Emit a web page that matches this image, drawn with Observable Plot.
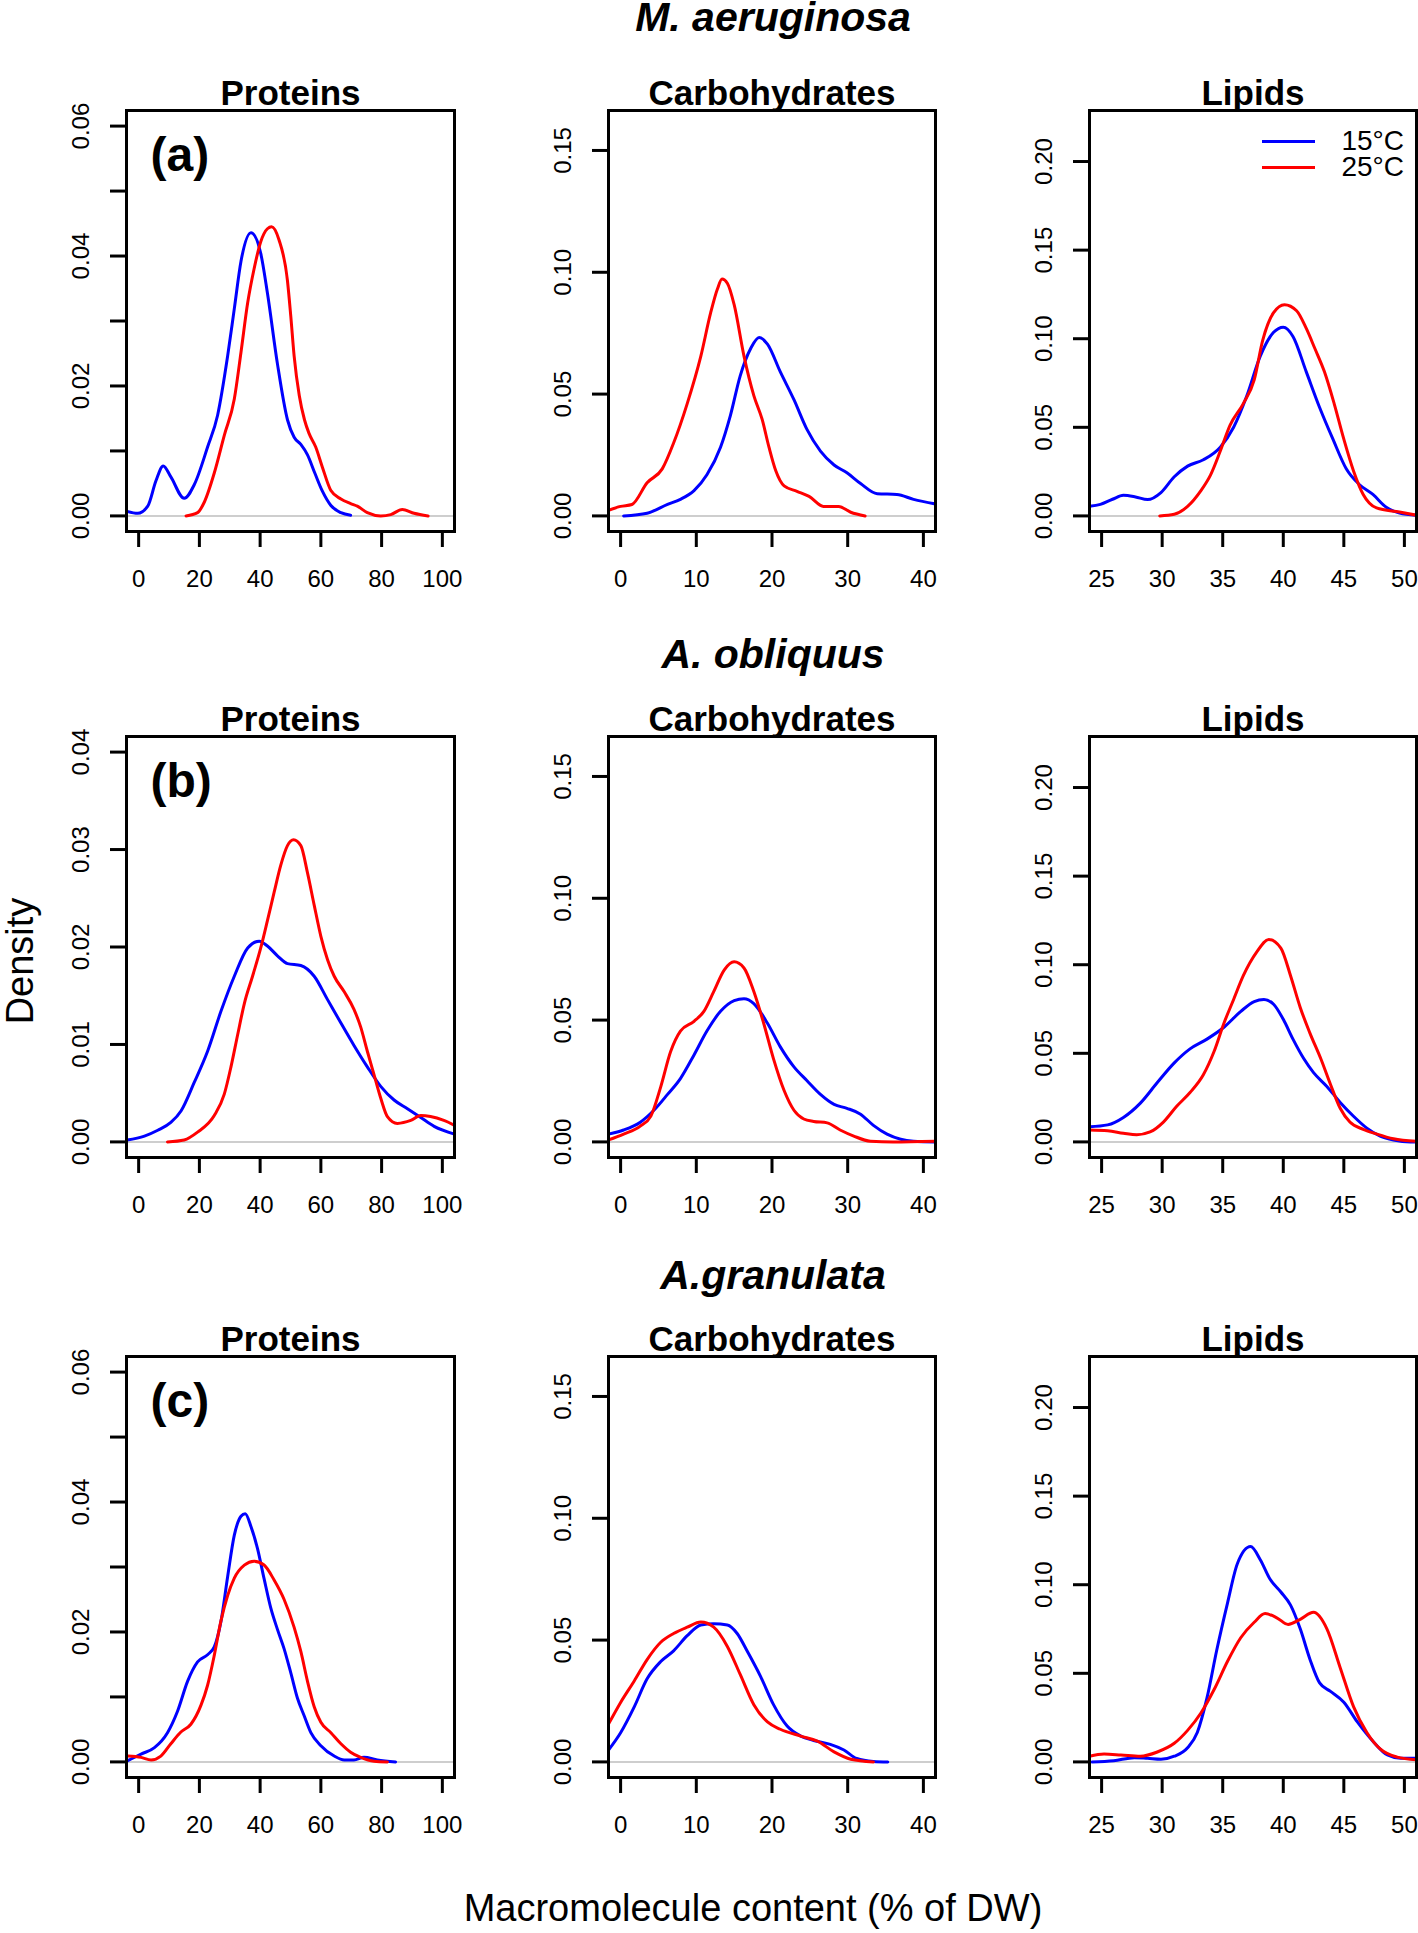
<!DOCTYPE html>
<html><head><meta charset="utf-8">
<script src="https://cdn.jsdelivr.net/npm/d3@7"></script>
<script src="https://cdn.jsdelivr.net/npm/@observablehq/plot@0.6"></script>
<style>
html,body{margin:0;padding:0;background:#fff;}
#wrap{position:relative;width:1418px;height:1933px;overflow:hidden;background:#fff;font-family:"Liberation Sans",Arial,Helvetica,sans-serif;}
#wrap svg{overflow:visible;}
</style></head><body><div id="wrap"></div>
<script>
// ---------- labels ----------
const species = ["M. aeruginosa", "A. obliquus", "A.granulata"];
const macromolecules = ["Proteins", "Carbohydrates", "Lipids"];
const panelLetters = ["(a)", "(b)", "(c)"];
const temps = ["15°C", "25°C"];
const tempColors = ["#0000FF", "#FF0000"];
const yTitle = "Density";
const xTitle = "Macromolecule content (% of DW)";

// ---------- axis limits and ticks ----------
const protXLim = [0, 100], carbXLim = [0, 40], lipXLim = [25, 50];
const protYLimAC = [0, 0.06], protYLimB = [0, 0.04], carbYLim = [0, 0.16], lipYLim = [0, 0.22];
const protXTicks = [0, 20, 40, 60, 80, 100];
const carbXTicks = [0, 10, 20, 30, 40];
const lipXTicks = [25, 30, 35, 40, 45, 50];
const protYTicksAC = [0, 0.01, 0.02, 0.03, 0.04, 0.05, 0.06];
const protYLabelsAC = [0, 0.02, 0.04, 0.06];
const protYTicksB = [0, 0.01, 0.02, 0.03, 0.04];
const carbYTicks = [0, 0.05, 0.10, 0.15];
const lipYTicks = [0, 0.05, 0.10, 0.15, 0.20];

// ---------- density curves [x, density] ----------
// M. aeruginosa
const maProt15 = [[-3.8,0.0007],[-0.3,0.0004],[3,0.0015],[5.7,0.0054],[8.1,0.0077],[10.6,0.006],[15,0.0027],[18.3,0.0048],[22.7,0.0106],[26,0.0155],[29.3,0.0246],[31.5,0.0319],[33.7,0.0392],[37,0.0436],[40.2,0.0404],[42.4,0.0343],[45.7,0.0234],[49,0.0148],[51.2,0.0121],[53.4,0.011],[55.6,0.0094],[58,0.0066],[60.5,0.0038],[63.3,0.0016],[66.6,0.0005],[69.8,0.0001]];
const maProt25 = [[15.6,0],[19.4,0.0005],[21.6,0.0021],[24.9,0.0066],[28.2,0.0124],[31.5,0.018],[33.7,0.0252],[35.9,0.0328],[38,0.038],[40.2,0.0422],[42.4,0.0442],[43.8,0.0445],[46.2,0.0425],[49,0.0362],[50.1,0.0307],[51.2,0.0246],[52.9,0.0185],[54.6,0.0148],[56.1,0.0127],[58.3,0.0106],[60.5,0.0075],[63.3,0.0039],[66.6,0.0026],[69.8,0.0019],[72,0.0015],[75.3,0.0005],[79.7,0],[83,0.0002],[86.8,0.001],[90.7,0.0004],[95.3,0]];
const maCarb15 = [[0.4,0],[3.5,0.0011],[6.2,0.0047],[7.9,0.0068],[9.7,0.0104],[11.4,0.0169],[13.2,0.0282],[14.5,0.0412],[15.8,0.0575],[17.2,0.0688],[18.3,0.0732],[19.4,0.0705],[21.1,0.0591],[22.9,0.0477],[24.6,0.0356],[26.4,0.0266],[28.2,0.0209],[29.9,0.0177],[31.7,0.0133],[33.9,0.0091],[36.5,0.0088],[38.7,0.0068],[41.6,0.0049]];
const maCarb25 = [[-1.6,0.0023],[0,0.0039],[1.5,0.0047],[3.5,0.0136],[5.5,0.0193],[7,0.0299],[8.8,0.0461],[10.6,0.0656],[11.9,0.0834],[12.8,0.0932],[13.4,0.0972],[14.1,0.0955],[15,0.0867],[16.3,0.0656],[17.6,0.0494],[18.7,0.0396],[19.6,0.0282],[20.5,0.0185],[21.6,0.0123],[23.3,0.0101],[24.9,0.008],[26.8,0.0039],[28.8,0.0039],[30.4,0.0015],[32.3,0]];
const maLip15 = [[24,0.0054],[24.9,0.0065],[25.9,0.0094],[26.8,0.0116],[27.8,0.0107],[28.8,0.0092],[29.9,0.0132],[31,0.0221],[32.1,0.0281],[33.4,0.0317],[34.8,0.0388],[35.9,0.05],[37,0.0679],[38.1,0.0902],[39.2,0.1036],[40,0.1065],[40.8,0.1013],[41.9,0.0813],[43,0.0612],[44.1,0.0433],[45.2,0.0266],[46.3,0.0176],[47.4,0.0121],[48.5,0.0049],[49.6,0.0016],[51,0.0004]];
const maLip25 = [[29.8,0],[31,0.0009],[32.1,0.0054],[33.2,0.0143],[34,0.0232],[34.8,0.0366],[35.6,0.0511],[36.7,0.0634],[37.6,0.0768],[38.3,0.0991],[39.2,0.1147],[40.1,0.1192],[41.1,0.1158],[41.9,0.1058],[42.6,0.0946],[43.4,0.0813],[44.2,0.0634],[45,0.0433],[45.8,0.0254],[46.6,0.0121],[47.7,0.0045],[49.6,0.0022],[51,0.0004]];
// A. obliquus
const aoProt15 = [[-3.8,0.0002],[1.9,0.0006],[6.3,0.0012],[10.6,0.002],[14,0.0032],[18.3,0.0061],[22.7,0.0093],[27.1,0.0134],[31.5,0.017],[35.9,0.0199],[39.7,0.0206],[42.4,0.0201],[45.7,0.0191],[49,0.0183],[53.4,0.0181],[57.8,0.017],[62.2,0.0146],[66.6,0.0122],[70.9,0.0099],[75.3,0.0077],[79.7,0.0057],[84.1,0.0043],[88.5,0.0034],[92.9,0.0025],[97.3,0.0016],[104,0.0008]];
const aoProt25 = [[9.5,0],[15,0.0002],[19.4,0.001],[24.9,0.0027],[28.2,0.0049],[30.4,0.0077],[32.6,0.011],[34.8,0.0142],[37.5,0.017],[40.2,0.0199],[42.4,0.0227],[44.6,0.0256],[46.8,0.0284],[49,0.0304],[51,0.031],[53.4,0.0304],[55.6,0.0276],[57.8,0.0243],[60,0.0211],[62.2,0.0187],[64.4,0.017],[67.7,0.0154],[70.9,0.0136],[73.1,0.0118],[75.3,0.0093],[77.5,0.0069],[79.7,0.0045],[81.9,0.0026],[85.2,0.0019],[89.6,0.0022],[92.9,0.0027],[96.1,0.0026],[100.5,0.0022],[104,0.0017]];
const aoCarb15 = [[-1.6,0.0032],[0.4,0.0049],[2.6,0.0081],[4.4,0.013],[6.2,0.0195],[7.9,0.026],[9.7,0.0357],[11.4,0.0455],[13.2,0.0536],[15,0.058],[16.3,0.0588],[17.6,0.0568],[19.4,0.0487],[21.1,0.039],[22.9,0.0308],[24.6,0.0252],[26.4,0.0195],[28.2,0.0154],[29.9,0.0138],[31.7,0.0114],[33.4,0.0068],[35.2,0.0032],[37,0.0011],[38.7,0.0003],[41.6,0]];
const aoCarb25 = [[-1.6,0.0008],[0.4,0.0032],[2.6,0.0065],[4,0.0106],[5.3,0.0226],[6.6,0.037],[7.9,0.0455],[9.7,0.0495],[11,0.0536],[12.3,0.0617],[13.7,0.0706],[15,0.0739],[16.3,0.0714],[17.6,0.0617],[18.9,0.0487],[20.2,0.0341],[21.6,0.0211],[22.9,0.013],[24.2,0.0094],[25.5,0.0084],[27.3,0.0078],[29,0.0049],[30.8,0.0024],[33,0.0003],[36,0],[41.6,0.0003]];
const aoLip15 = [[24,0.0085],[25.5,0.0096],[26.8,0.0138],[28.2,0.0219],[29.6,0.0335],[31,0.0446],[32.3,0.0525],[33.7,0.058],[35.1,0.0647],[36.5,0.0737],[37.6,0.0792],[38.4,0.0804],[39.2,0.0777],[40,0.0692],[40.8,0.058],[41.7,0.0469],[42.5,0.0391],[43.6,0.0313],[44.7,0.0223],[45.8,0.0145],[46.9,0.0078],[48,0.0033],[49.1,0.0011],[50.5,0],[51,0]];
const aoLip25 = [[24,0.0067],[25.5,0.0063],[26.8,0.0049],[27.9,0.004],[29,0.0056],[30.1,0.0112],[31.2,0.0201],[32.3,0.0279],[33.4,0.0379],[34.3,0.0513],[35.1,0.067],[35.9,0.0804],[36.7,0.0938],[37.8,0.1071],[38.8,0.1143],[39.8,0.1094],[40.6,0.0938],[41.4,0.0759],[42.2,0.0614],[43.1,0.0469],[43.9,0.0324],[44.7,0.019],[45.5,0.0112],[46.6,0.0071],[47.7,0.0045],[49.1,0.0018],[51,0.0004]];
// A. granulata
const agProt15 = [[-3.6,0.0002],[0.8,0.0012],[5.2,0.0022],[9.5,0.0045],[12.8,0.0078],[16.1,0.0124],[19.4,0.0154],[22.7,0.0165],[24.9,0.0177],[27.1,0.0216],[29.3,0.0285],[31.5,0.0349],[33.7,0.0378],[35.1,0.0382],[37,0.0362],[39.1,0.0329],[41.3,0.0282],[43.5,0.0237],[45.7,0.0204],[47.9,0.0174],[50.1,0.0137],[52.3,0.0098],[54.5,0.0071],[56.7,0.0045],[60,0.0025],[64.4,0.0009],[67.7,0.0003],[70.9,0.0003],[74.2,0.0007],[78.6,0.0003],[84.6,0]];
const agProt25 = [[-3.6,0.0009],[0.8,0.0007],[4.1,0.0003],[7.3,0.0009],[10.6,0.0028],[13.9,0.0046],[17.2,0.0058],[20.5,0.0087],[22.7,0.0118],[24.9,0.0164],[27.1,0.0217],[29.3,0.0256],[31.5,0.0283],[34.8,0.0303],[38,0.0309],[41.3,0.0303],[44.6,0.028],[47.9,0.025],[51.2,0.0207],[53.4,0.017],[55.6,0.0124],[57.8,0.0085],[60,0.0061],[63.3,0.0045],[66.6,0.0028],[69.8,0.0015],[73.1,0.0007],[77.5,0.0001],[81.9,0]];
const agCarb15 = [[-1.6,0.0049],[0,0.012],[1.8,0.0226],[3.5,0.0341],[5.3,0.0412],[7,0.0456],[8.8,0.0518],[10.6,0.0562],[12.3,0.0567],[14.1,0.0562],[15.4,0.0527],[16.7,0.0456],[18.5,0.035],[20.2,0.0235],[22,0.0147],[23.8,0.0106],[25.5,0.0088],[27.7,0.0072],[29.5,0.0049],[31.2,0.0014],[33.4,0.0002],[35.3,0]];
const agCarb25 = [[-1.6,0.0155],[0,0.0244],[1.8,0.0332],[3.5,0.042],[5.3,0.0491],[7,0.0527],[8.8,0.0553],[10.6,0.0574],[12.3,0.0553],[14.1,0.0474],[15.8,0.0359],[17.6,0.0235],[19.4,0.0164],[21.1,0.0134],[23.8,0.0106],[26,0.0085],[28.2,0.0041],[30.4,0.0011],[33.4,0]];
const agLip15 = [[24.2,0],[26,0.0007],[27.7,0.0024],[28.8,0.002],[29.9,0.0015],[31,0.0032],[32.1,0.008],[32.9,0.0166],[33.7,0.0361],[34.5,0.0629],[35.4,0.0898],[36.2,0.1117],[37.3,0.1215],[38.1,0.1141],[38.9,0.1032],[39.8,0.0959],[40.6,0.0885],[41.4,0.0751],[42.2,0.058],[43,0.0446],[43.9,0.0398],[45,0.0337],[46.1,0.0227],[47.4,0.0117],[48.6,0.0039],[49.7,0.002],[51,0.002]];
const agLip25 = [[24,0.0032],[25.2,0.0044],[26.6,0.0039],[28.2,0.0032],[29.6,0.0056],[31,0.0105],[32.1,0.0178],[33.2,0.0276],[34.3,0.041],[35.4,0.0568],[36.5,0.0702],[37.6,0.0788],[38.5,0.0837],[39.5,0.0812],[40.4,0.0776],[41.4,0.0805],[42.5,0.0844],[43.6,0.0751],[44.7,0.0532],[45.8,0.0312],[46.9,0.0166],[48,0.0073],[49.4,0.0027],[51,0.0012]];

// ---------- layout ----------
const colLeft = [126, 608, 1089];
const colWidth = [328, 327, 327];
const rowTop = [110, 736, 1356];
const rowHeight = 421;
const mL = 100, mR = 14, mT = 60, mB = 72;
const FONT = '"Liberation Sans", Arial, Helvetica, sans-serif';

const pad = l => [l[0] - 0.04 * (l[1] - l[0]), l[1] + 0.04 * (l[1] - l[0])];

const curves = [
  [[maProt15, maProt25], [maCarb15, maCarb25], [maLip15, maLip25]],
  [[aoProt15, aoProt25], [aoCarb15, aoCarb25], [aoLip15, aoLip25]],
  [[agProt15, agProt25], [agCarb15, agCarb25], [agLip15, agLip25]]
];
const xLims = [protXLim, carbXLim, lipXLim];
const xTicks = [protXTicks, carbXTicks, lipXTicks];
function yConf(row, col) {
  if (col === 0) return row === 1
    ? {lim: protYLimB, ticks: protYTicksB, labels: protYTicksB}
    : {lim: protYLimAC, ticks: protYTicksAC, labels: protYLabelsAC};
  if (col === 1) return {lim: carbYLim, ticks: carbYTicks, labels: carbYTicks};
  return {lim: lipYLim, ticks: lipYTicks, labels: lipYTicks};
}

const wrap = document.getElementById("wrap");

for (let r = 0; r < 3; r++) {
  for (let c = 0; c < 3; c++) {
    const W = colWidth[c], H = rowHeight;
    const yc = yConf(r, c);
    const [d15, d25] = curves[r][c];
    const marks = [
      Plot.ruleY([0], {stroke: "#BEBEBE", strokeWidth: 1.5}),
      Plot.line(d15, {x: d => d[0], y: d => d[1], stroke: tempColors[0], strokeWidth: 3, curve: "monotone-x", clip: true}),
      Plot.line(d25, {x: d => d[0], y: d => d[1], stroke: tempColors[1], strokeWidth: 3, curve: "monotone-x", clip: true}),
      Plot.frame({stroke: "black", strokeWidth: 3}),
      Plot.axisX(xTicks[c], {tickSize: 16, tickPadding: 22.4, fontSize: 24, strokeWidth: 3, label: null, tickFormat: d => String(d)}),
      Plot.axisY(yc.ticks, {tickSize: 16, tickPadding: 21.4, tickRotate: -90, fontSize: 24, strokeWidth: 3, label: null,
        tickFormat: d => yc.labels.some(v => Math.abs(v - d) < 1e-9) ? d.toFixed(2) : ""}),
      Plot.text([macromolecules[c]], {text: d => d, frameAnchor: "top", lineAnchor: "bottom", dy: -6, fontSize: 35, fontWeight: "bold"})
    ];
    if (c === 0) {
      marks.push(Plot.text([panelLetters[r]], {text: d => d, frameAnchor: "top-left", textAnchor: "start", lineAnchor: "bottom", dx: 24, dy: 60, fontSize: 48, fontWeight: "bold"}));
    }
    const svg = Plot.plot({
      width: W + mL + mR, height: H + mT + mB,
      marginLeft: mL, marginRight: mR, marginTop: mT, marginBottom: mB,
      x: {domain: pad(xLims[c])},
      y: {domain: pad(yc.lim)},
      style: {fontFamily: FONT, color: "#000", background: "transparent", overflow: "visible"},
      marks
    });
    svg.style.position = "absolute";
    svg.style.left = (colLeft[c] - mL) + "px";
    svg.style.top = (rowTop[r] - mT) + "px";
    wrap.appendChild(svg);
  }
}

// ---------- legend (top-right panel) ----------
const legend = Plot.plot({
  width: 150, height: 50, margin: 0,
  x: {domain: [0, 150], range: [0, 150], axis: null},
  y: {type: "point", domain: temps, range: [18.4, 44.9], padding: 0, axis: null},
  color: {domain: temps, range: tempColors},
  style: {fontFamily: FONT, color: "#000", background: "transparent", overflow: "visible"},
  marks: [
    Plot.ruleY(temps, {y: d => d, x1: 0, x2: 53, stroke: d => d, strokeWidth: 3}),
    Plot.text(temps, {y: d => d, x: 141.5, text: d => d, textAnchor: "end", fontSize: 28})
  ]
});
legend.style.position = "absolute";
legend.style.left = "1262px";
legend.style.top = "122px";
wrap.appendChild(legend);

// ---------- titles and axis titles ----------
const overlay = d3.select(wrap).append("svg")
  .attr("width", 1418).attr("height", 1933)
  .style("position", "absolute").style("left", "0px").style("top", "0px")
  .style("pointer-events", "none").style("font-family", FONT);
const speciesBaseline = [30.5, 668, 1289];
species.forEach((s, i) => {
  overlay.append("text").attr("x", 773).attr("y", speciesBaseline[i])
    .attr("text-anchor", "middle").attr("font-size", 41)
    .attr("font-weight", "bold").attr("font-style", "italic").text(s);
});
overlay.append("text").attr("transform", "translate(33,961) rotate(-90)")
  .attr("text-anchor", "middle").attr("font-size", 38).text(yTitle);
overlay.append("text").attr("x", 753).attr("y", 1921)
  .attr("text-anchor", "middle").attr("font-size", 38).text(xTitle);
</script></body></html>
